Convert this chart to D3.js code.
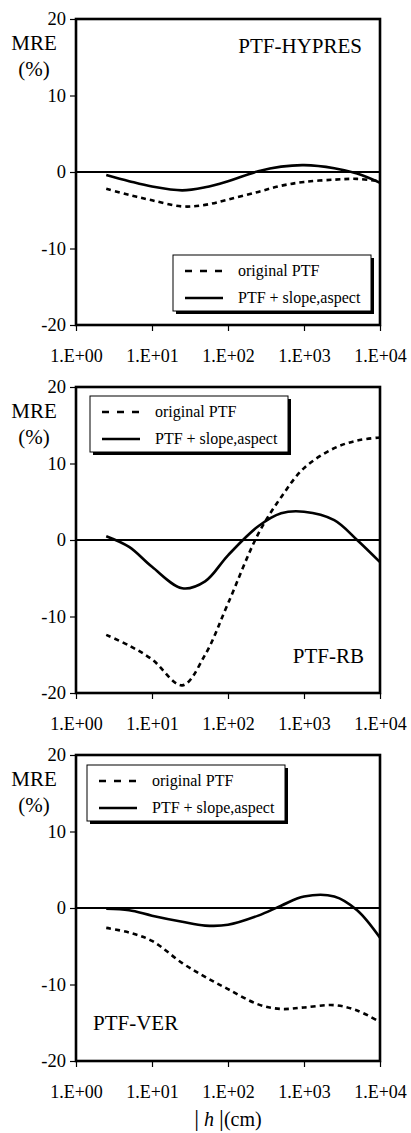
<!DOCTYPE html>
<html>
<head>
<meta charset="utf-8">
<script src="https://cdn.jsdelivr.net/npm/d3@7"></script>
<style>
  body { margin: 0; background: #fff; }
  svg text { font-family: "Liberation Serif", "Times New Roman", serif; fill: #000; }
</style>
</head>
<body>
<svg id="chart" width="411" height="1133"></svg>
<script>
// suction head |h| (cm)
var hValues = [2.5, 5, 10, 25, 50, 100, 250, 500, 1000, 2500, 5000, 10000];

// MRE (%) per PTF
var hypresOriginal = [-2.2, -3.0, -3.7, -4.5, -4.3, -3.6, -2.6, -1.8, -1.3, -1.0, -0.9, -1.2];
var hypresSlope    = [-0.4, -1.2, -1.9, -2.4, -2.0, -1.2, 0.1, 0.7, 0.9, 0.5, -0.2, -1.4];

var rbOriginal = [-12.4, -13.8, -15.6, -19.0, -15.0, -8.3, 0.8, 5.6, 9.4, 12.0, 13.0, 13.4];
var rbSlope    = [0.5, -0.9, -3.5, -6.3, -5.4, -2.0, 1.8, 3.5, 3.7, 2.6, 0.0, -2.9];

var verOriginal = [-2.6, -3.2, -4.3, -7.2, -9.0, -10.6, -12.6, -13.2, -13.0, -12.7, -13.4, -14.9];
var verSlope    = [-0.1, -0.3, -1.0, -1.8, -2.3, -2.2, -1.0, 0.3, 1.5, 1.5, -0.3, -3.9];

var xTicks = [1, 10, 100, 1000, 10000];
var xTickLabels = ["1.E+00", "1.E+01", "1.E+02", "1.E+03", "1.E+04"];
var yTicks = [-20, -10, 0, 10, 20];
var yTickLabels = ["-20", "-10", "0", "10", "20"];
var seriesNames = ["original PTF", "PTF + slope,aspect"];

var serif = '"Liberation Serif", "Times New Roman", serif';

var svg = d3.select('#chart');

var x = d3.scaleLog()
  .domain([1, 10000])
  .range([76, 380]);

var panelH = 306;

// one panel per PTF
var panels = [
  {top: 19,  name: "PTF-HYPRES", orig: hypresOriginal, slope: hypresSlope,
   label: {x: 362, y: 53, anchor: "end"}, legend: {x: 173, y: 255}},
  {top: 387, name: "PTF-RB", orig: rbOriginal, slope: rbSlope,
   label: {x: 364, y: 663, anchor: "end"}, legend: {x: 90, y: 396}},
  {top: 755, name: "PTF-VER", orig: verOriginal, slope: verSlope,
   label: {x: 93, y: 1030, anchor: "start"}, legend: {x: 87, y: 765}}
];

panels.forEach(function(p) {
  var y = d3.scaleLinear()
    .domain([-20, 20])
    .range([p.top + panelH, p.top]);

  var g = svg.append('g');

  // y axis
  var yAxis = g.append('g')
    .attr('transform', 'translate(76,0)')
    .call(d3.axisLeft(y).tickValues(yTicks).tickSize(6).tickPadding(4)
      .tickFormat(function(d, i) { return yTickLabels[i]; }));
  yAxis.attr('font-family', serif);
  yAxis.select('.domain').remove();
  yAxis.selectAll('line').attr('stroke', '#000').attr('stroke-width', 1.2);
  yAxis.selectAll('text').attr('font-size', 18.5);

  // x axis
  var xAxis = g.append('g')
    .attr('transform', 'translate(0,' + (p.top + panelH) + ')')
    .call(d3.axisBottom(x).tickValues(xTicks).tickSize(6).tickPadding(18)
      .tickFormat(function(d, i) { return xTickLabels[i]; }));
  xAxis.attr('font-family', serif);
  xAxis.select('.domain').remove();
  xAxis.selectAll('line').attr('stroke', '#000').attr('stroke-width', 1.2);
  xAxis.selectAll('text').attr('font-size', 18);

  // zero line
  g.append('line')
    .attr('x1', x(1)).attr('x2', x(10000))
    .attr('y1', y(0)).attr('y2', y(0))
    .attr('stroke', '#000').attr('stroke-width', 2);

  var line = d3.line()
    .x(function(d, i) { return x(hValues[i]); })
    .y(function(d) { return y(d); })
    .curve(d3.curveCatmullRom.alpha(0.5));

  g.append('path')
    .attr('d', line(p.orig))
    .attr('fill', 'none').attr('stroke', '#000')
    .attr('stroke-width', 2.6).attr('stroke-dasharray', '5,4');

  g.append('path')
    .attr('d', line(p.slope))
    .attr('fill', 'none').attr('stroke', '#000')
    .attr('stroke-width', 2.6);

  // frame
  g.append('rect')
    .attr('x', 76).attr('y', p.top)
    .attr('width', 304).attr('height', panelH)
    .attr('fill', 'none').attr('stroke', '#000').attr('stroke-width', 2.6);

  // MRE (%)
  g.append('text').attr('x', 34).attr('y', p.top + 31)
    .attr('text-anchor', 'middle').attr('font-size', 21).text('MRE');
  g.append('text').attr('x', 34).attr('y', p.top + 57)
    .attr('text-anchor', 'middle').attr('font-size', 21).text('(%)');

  // panel name
  g.append('text')
    .attr('x', p.label.x).attr('y', p.label.y)
    .attr('text-anchor', p.label.anchor)
    .attr('font-size', 21).text(p.name);

  // legend
  var lx = p.legend.x, ly = p.legend.y, lw = 198, lh = 56;
  g.append('rect').attr('x', lx + 3).attr('y', ly + 3).attr('width', lw).attr('height', lh).attr('fill', '#000');
  g.append('rect').attr('x', lx).attr('y', ly).attr('width', lw).attr('height', lh)
    .attr('fill', '#fff').attr('stroke', '#000').attr('stroke-width', 1);
  g.append('line').attr('x1', lx + 12).attr('x2', lx + 50)
    .attr('y1', ly + 16).attr('y2', ly + 16)
    .attr('stroke', '#000').attr('stroke-width', 2.6).attr('stroke-dasharray', '7,8');
  g.append('line').attr('x1', lx + 12).attr('x2', lx + 50)
    .attr('y1', ly + 43).attr('y2', ly + 43)
    .attr('stroke', '#000').attr('stroke-width', 2.6);
  g.append('text').attr('x', lx + 65).attr('y', ly + 21)
    .attr('font-size', 16).text(seriesNames[0]);
  g.append('text').attr('x', lx + 65).attr('y', ly + 48)
    .attr('font-size', 16).text(seriesNames[1]);
});

// x axis title
var title = svg.append('text')
  .attr('x', 228).attr('y', 1126)
  .attr('text-anchor', 'middle').attr('font-size', 20);
title.append('tspan').attr('font-size', 24).text('|');
title.append('tspan').attr('font-style', 'italic').text(' h ');
title.append('tspan').attr('font-size', 24).text('|');
title.append('tspan').text('(cm)');
</script>
</body>
</html>
